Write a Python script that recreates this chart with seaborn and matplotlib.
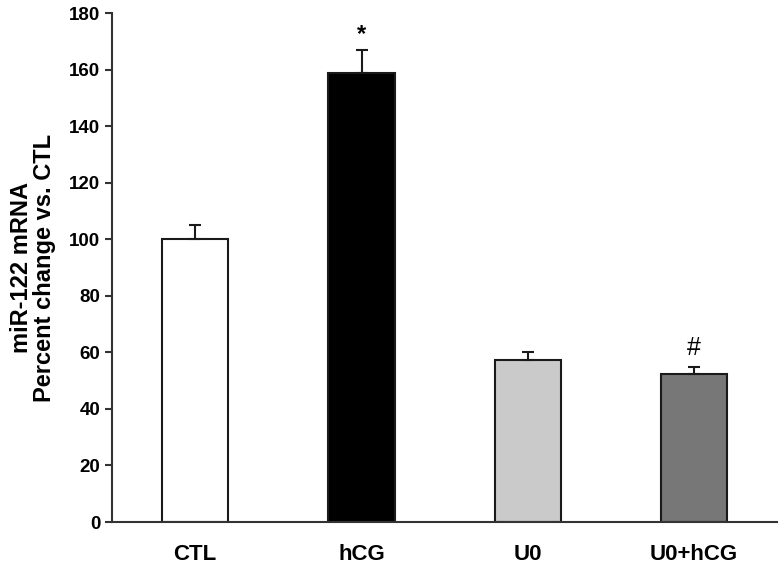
import numpy as np
import pandas as pd
import seaborn as sns
from matplotlib import pyplot as plt

groups = ['CTL', 'hCG', 'U0', 'U0+hCG']
means = [100, 159, 57.5, 52.5]
sems = [5, 8, 2.5, 2.5]
colors = ['#ffffff', '#000000', '#cacaca', '#777777']
marks = ['', '*', '', '#']

sns.set_style('ticks')
plt.rcParams['font.family'] = ['Liberation Sans', 'DejaVu Sans']
plt.rcParams['font.weight'] = 'bold'
plt.rcParams['text.color'] = 'black'
plt.rcParams['xtick.color'] = 'black'
plt.rcParams['ytick.color'] = 'black'
plt.rcParams['axes.labelcolor'] = 'black'

df = pd.DataFrame({'group': groups, 'value': means})

fig = plt.figure(figsize=(7.8, 5.69), dpi=100)
ax = fig.add_axes([0.1436, 0.0826, 0.853, 0.894])
sns.barplot(data=df, x='group', y='value', hue='group', palette=colors,
            width=0.4, edgecolor='#1a1a1a', linewidth=1.5, legend=False, ax=ax)
ax.errorbar(np.arange(len(groups)), means, yerr=[np.zeros(len(sems)), sems],
            fmt='none', ecolor='#1a1a1a', elinewidth=1.5, capsize=4, capthick=1.5)

# significance marks
ax.text(1, means[1] + sems[1] + 1.5, marks[1], ha='center', va='bottom',
        fontsize=17, fontweight='bold')
ax.text(3, means[3] + sems[3] + 2.5, marks[3], ha='center', va='bottom',
        fontsize=18, fontweight='normal')

ax.set_xlim(-0.5, 3.5)
ax.set_ylim(0, 180)
ax.set_yticks(range(0, 181, 20))
ax.set_xlabel('')
ax.set_ylabel('miR-122 mRNA\nPercent change vs. CTL', fontsize=17, fontweight='bold',
              labelpad=9, linespacing=1.05)
ax.tick_params(axis='y', labelsize=13.5, length=5, width=1.5, color='#333333')
ax.tick_params(axis='x', labelsize=16, length=0, pad=16)
for s in ['top', 'right']:
    ax.spines[s].set_visible(False)
for s in ['left', 'bottom']:
    ax.spines[s].set_linewidth(1.5)
    ax.spines[s].set_color('#333333')

fig.savefig('out.png', dpi=100)
